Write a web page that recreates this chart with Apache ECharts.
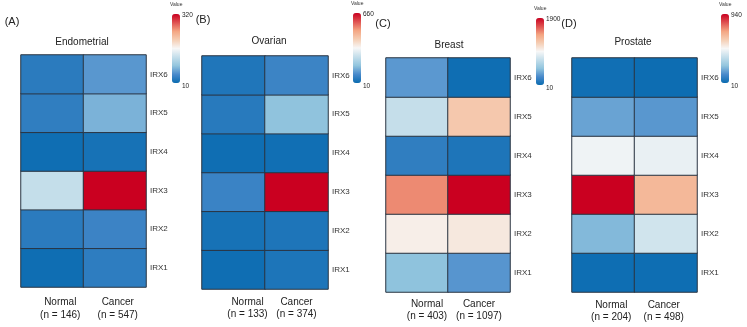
<!DOCTYPE html>
<html>
<head>
<meta charset="utf-8">
<script src="https://cdn.jsdelivr.net/npm/echarts@6/dist/echarts.min.js"></script>
<style>
html,body{margin:0;padding:0;background:#fff;}
#chart{width:747px;height:327px;}
</style>
</head>
<body>
<div id="chart"></div>
<script>
// ---- data ----
const genes = ['IRX1', 'IRX2', 'IRX3', 'IRX4', 'IRX5', 'IRX6'];
const panelLetters = ['(A)', '(B)', '(C)', '(D)'];
const panelTitles = ['Endometrial', 'Ovarian', 'Breast', 'Prostate'];
const groupLabels = [
  ['Normal\n(n = 146)', 'Cancer\n(n = 547)'],
  ['Normal\n(n = 133)', 'Cancer\n(n = 374)'],
  ['Normal\n(n = 403)', 'Cancer\n(n = 1097)'],
  ['Normal\n(n = 204)', 'Cancer\n(n = 498)']
];
const scaleMin = [10, 10, 10, 10];
const scaleMax = [320, 660, 1900, 940];
// values ordered IRX1..IRX6
const endometrialNormal = [13, 30, 126, 13, 33, 30];
const endometrialCancer = [32, 40, 320, 18, 75, 57];
const ovarianNormal = [16, 26, 71, 16, 48, 38];
const ovarianCancer = [34, 35, 660, 19, 170, 74];
const breastNormal = [473, 1007, 1505, 150, 723, 303];
const breastCancer = [290, 1042, 1900, 84, 1225, 27];
const prostateNormal = [17, 219, 940, 457, 176, 22];
const prostateCancer = [17, 385, 654, 442, 151, 15];

const panelValues = [
  [endometrialNormal, endometrialCancer],
  [ovarianNormal, ovarianCancer],
  [breastNormal, breastCancer],
  [prostateNormal, prostateCancer]
];

// ---- layout (styles/positions) ----
const gridPos = [
  {left: 21, top: 55, width: 125, height: 232},
  {left: 202, top: 56, width: 126, height: 233},
  {left: 386, top: 58, width: 124, height: 234},
  {left: 572, top: 58, width: 125, height: 234}
];
const xLabelMargin = [9, 6.5, 5.5, 6.5];
const barPos = [
  {x: 172, y: 14, h: 69},
  {x: 353, y: 13, h: 70},
  {x: 536, y: 18, h: 67},
  {x: 721, y: 14, h: 69}
];
const letterPos = [[12, 22], [203, 20], [383, 24], [569, 24]];
const titlePos = [[82, 42], [269, 41], [449, 45], [633, 42]];
const labelShift = [[8, 3], [14, 0], [10, 0], [8, -2]];
const colors = ['#0a6cb1', '#4a8acb', '#92c5de', '#c4deea', '#f7f7f7', '#f5ceb4', '#f4a582', '#df5251', '#ca0020'];
const FONT = '"Liberation Sans", Arial, sans-serif';

const grids = [], xAxes = [], yAxes = [], series = [], visualMaps = [], graphics = [];

for (let p = 0; p < 4; p++) {
  grids.push(Object.assign({containLabel: false}, gridPos[p]));
  xAxes.push({
    type: 'category', gridIndex: p,
    data: groupLabels[p].map((lab, i) => ({
      value: lab,
      textStyle: {padding: labelShift[p][i] >= 0 ? [0, 0, 0, 2 * labelShift[p][i]] : [0, -2 * labelShift[p][i], 0, 0]}
    })),
    axisLine: {show: false}, axisTick: {show: false}, splitLine: {show: false},
    axisLabel: {fontSize: 10, lineHeight: 12.5, margin: xLabelMargin[p], color: '#222', fontFamily: FONT}
  });
  yAxes.push({
    type: 'category', gridIndex: p, data: genes, position: 'right',
    axisLine: {show: false}, axisTick: {show: false}, splitLine: {show: false},
    axisLabel: {fontSize: 8, margin: 4, color: '#333', fontFamily: FONT}
  });
  const data = [];
  panelValues[p].forEach((vals, xi) => {
    vals.forEach((v, yi) => data.push([xi, yi, v]));
  });
  series.push({
    type: 'heatmap', xAxisIndex: p, yAxisIndex: p, data: data,
    itemStyle: {borderColor: '#2a3442', borderWidth: 1},
    emphasis: {disabled: true}
  });
  visualMaps.push({
    type: 'continuous', seriesIndex: p, min: scaleMin[p], max: scaleMax[p],
    orient: 'vertical', left: barPos[p].x, top: barPos[p].y,
    itemWidth: 8, itemHeight: barPos[p].h, padding: 0,
    calculable: false, text: null, showLabel: false, hoverLink: false,
    inRange: {color: colors}
  });
  const b = barPos[p];
  graphics.push({type: 'text', left: b.x - 2, top: b.y - 12,
    style: {text: 'Value', fontSize: 5, fill: '#333', font: '5px ' + FONT}});
  graphics.push({type: 'text', x: b.x + 10, y: b.y + 1,
    style: {text: String(scaleMax[p]), fill: '#222', font: '6.5px ' + FONT, verticalAlign: 'middle'}});
  graphics.push({type: 'text', x: b.x + 10, y: b.y + b.h + 3,
    style: {text: String(scaleMin[p]), fill: '#222', font: '6.5px ' + FONT, verticalAlign: 'middle'}});
  graphics.push({type: 'text', x: letterPos[p][0], y: letterPos[p][1],
    style: {text: panelLetters[p], fill: '#222', font: '11px ' + FONT, align: 'center', verticalAlign: 'middle'}});
  graphics.push({type: 'text', x: titlePos[p][0], y: titlePos[p][1],
    style: {text: panelTitles[p], fill: '#222', font: '10px ' + FONT, align: 'center', verticalAlign: 'middle'}});
}

const chart = echarts.init(document.getElementById('chart'), null, {renderer: 'canvas'});
chart.setOption({
  animation: false,
  backgroundColor: '#ffffff',
  textStyle: {fontFamily: FONT},
  grid: grids, xAxis: xAxes, yAxis: yAxes,
  visualMap: visualMaps, series: series, graphic: graphics
});
</script>
</body>
</html>
